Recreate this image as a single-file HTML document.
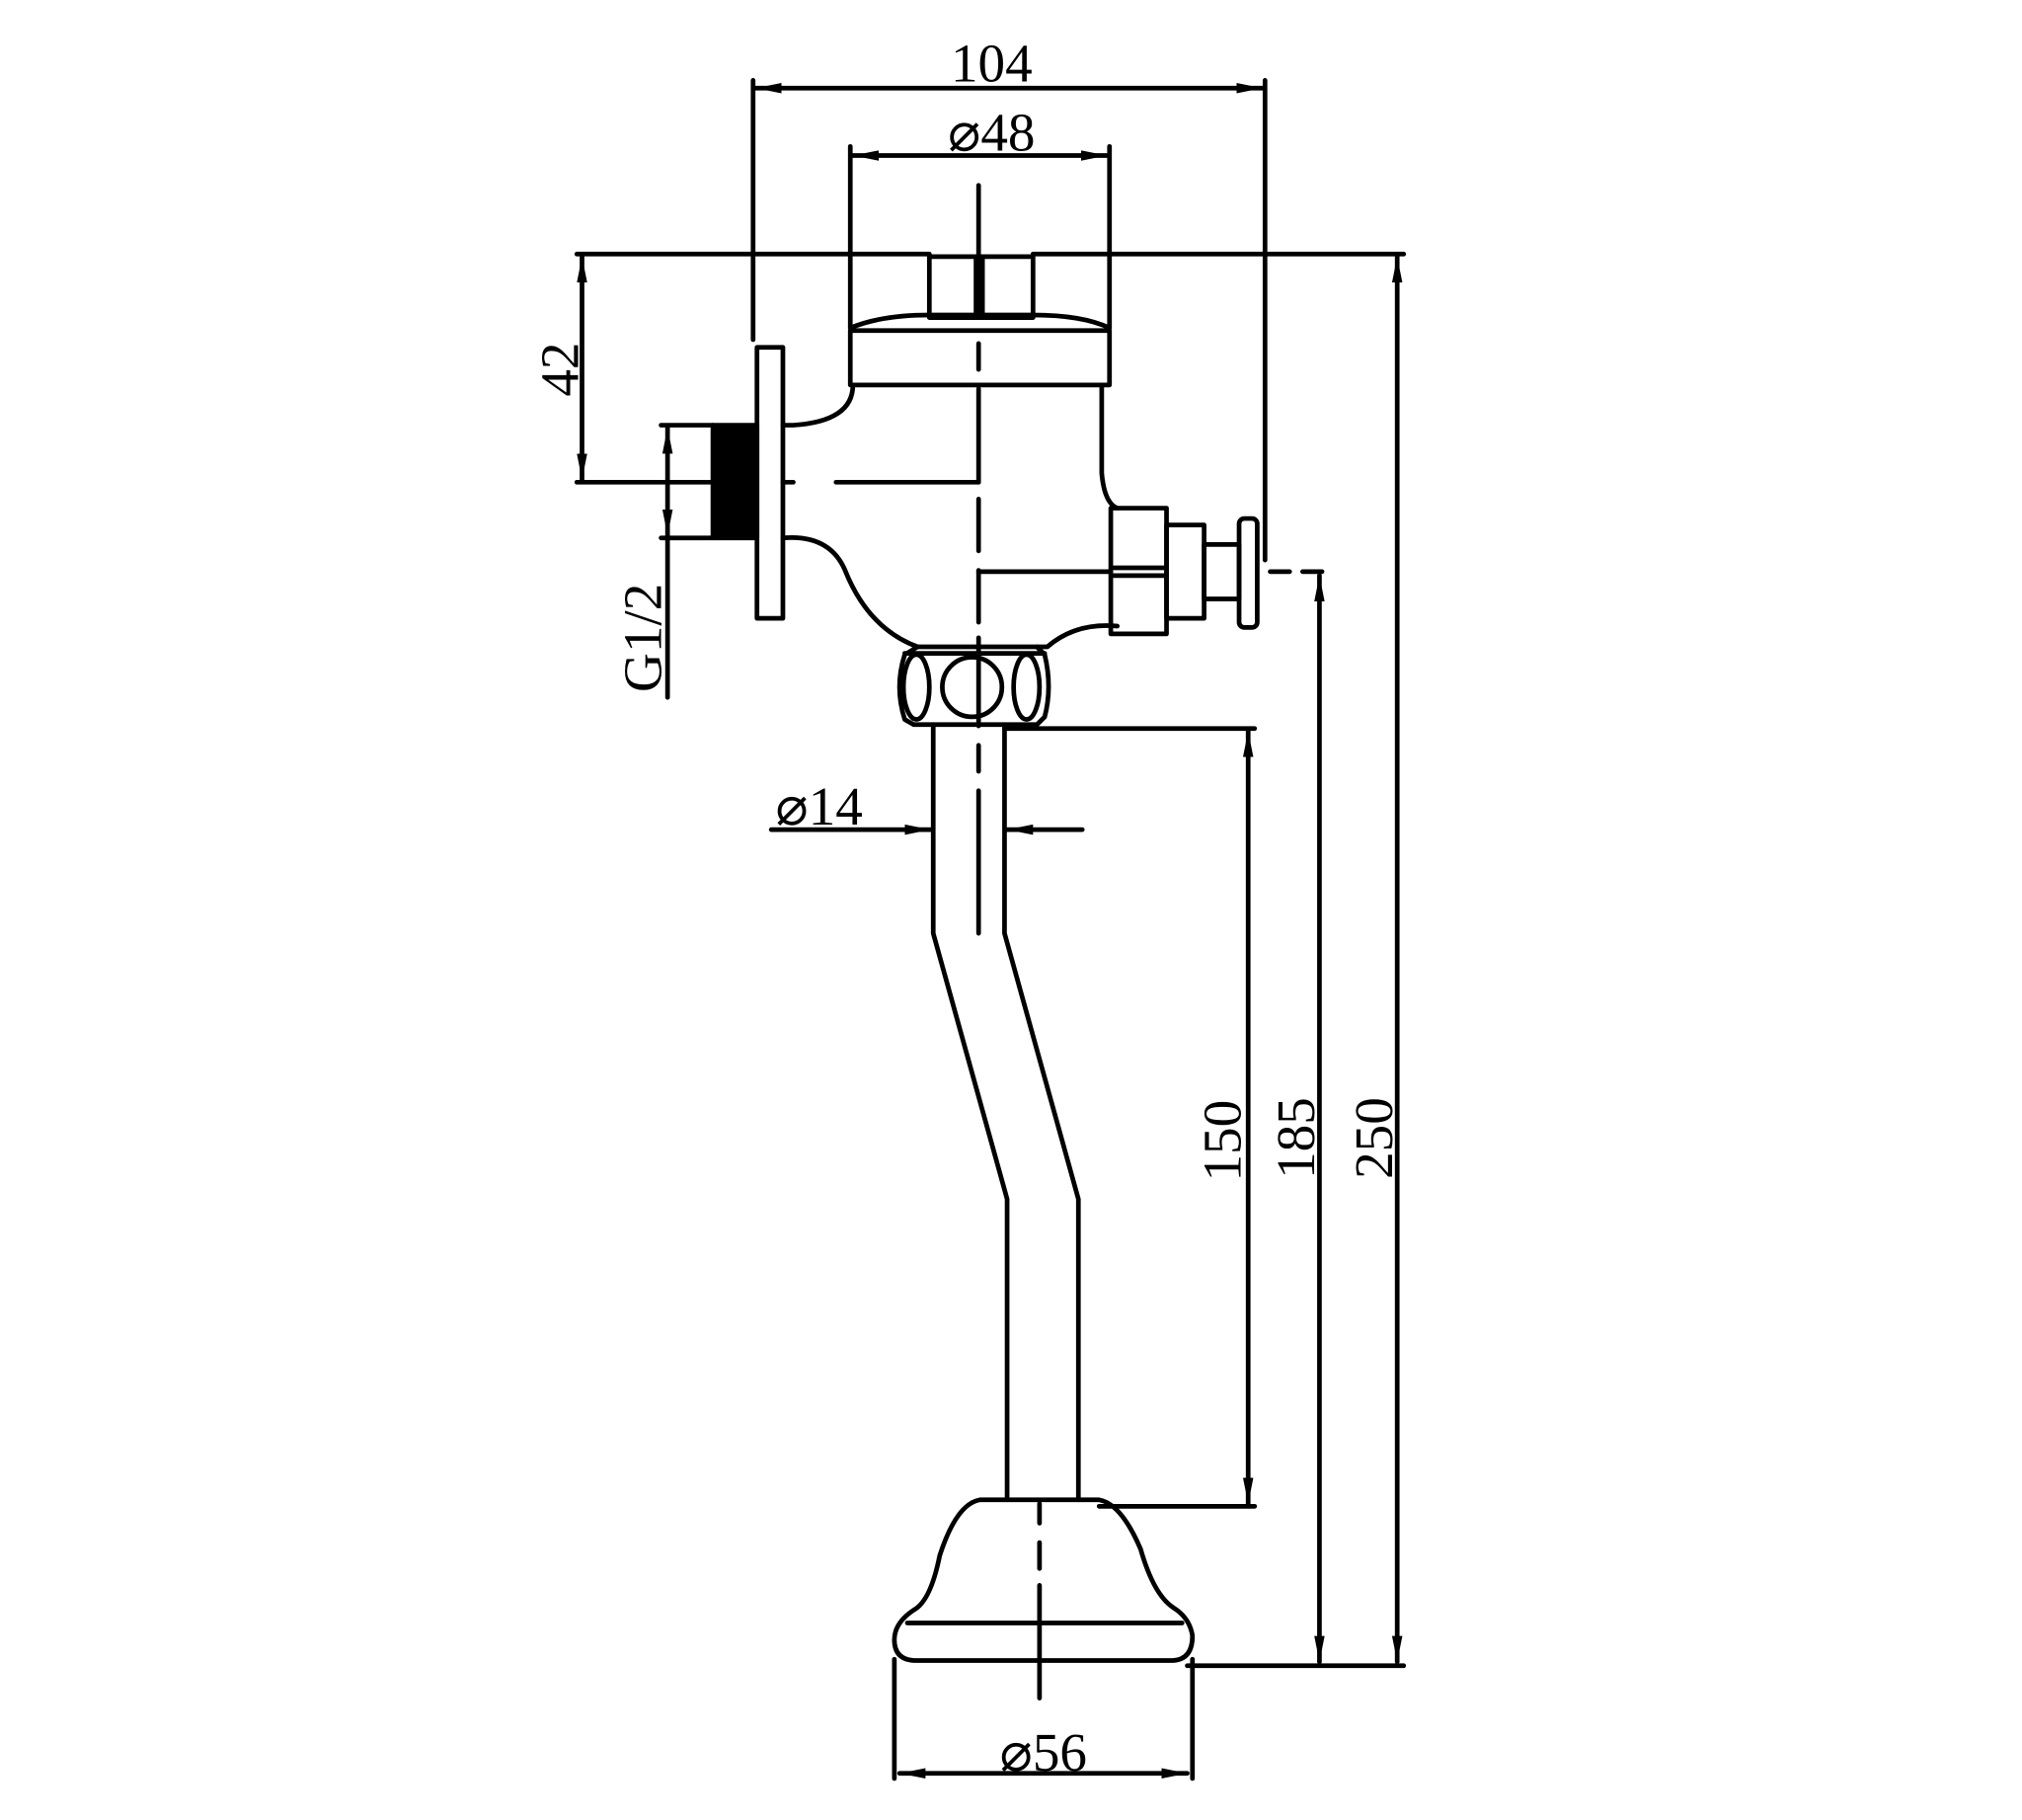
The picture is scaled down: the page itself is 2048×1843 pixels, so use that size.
<!DOCTYPE html>
<html><head><meta charset="utf-8"><style>html,body{margin:0;padding:0;background:#fff}svg{display:block}</style></head>
<body>
<svg width="2048" height="1843" viewBox="0 0 1560 1404" xmlns="http://www.w3.org/2000/svg">
<defs>
<marker id="a" viewBox="0 0 20 8" refX="20" refY="4" markerWidth="20" markerHeight="8" markerUnits="userSpaceOnUse" orient="auto-start-reverse"><path d="M0,0 L20,4 L0,8 Z" fill="#000"/></marker>
</defs>
<rect width="1560" height="1404" fill="#fff"/>
<g font-family="Liberation Serif, serif" font-size="42" fill="#000" text-anchor="middle">
<text x="765" y="63">104</text>
<text x="765" y="116">⌀48</text>
<text x="632" y="636">⌀14</text>
<text x="805" y="1366">⌀56</text>
<text transform="translate(446,285) rotate(-90)">42</text>
<text transform="translate(510,492) rotate(-90)">G1/2</text>
<text transform="translate(957,880) rotate(-90)">150</text>
<text transform="translate(1014,878) rotate(-90)">185</text>
<text transform="translate(1074,878) rotate(-90)">250</text>
</g>
<g stroke="#000" stroke-width="3.6" fill="none" stroke-linecap="round" stroke-linejoin="round">
<line x1="583" y1="68" x2="974" y2="68" marker-start="url(#a)" marker-end="url(#a)"/>
<line x1="581" y1="62" x2="581" y2="262"/>
<line x1="976" y1="62" x2="976" y2="432"/>
<line x1="658" y1="120" x2="854" y2="120" marker-start="url(#a)" marker-end="url(#a)"/>
<line x1="656" y1="113" x2="656" y2="253"/>
<line x1="856" y1="113" x2="856" y2="253"/>
<line x1="445" y1="196" x2="717" y2="196"/>
<line x1="797" y1="196" x2="1083" y2="196"/>
<line x1="449" y1="198" x2="449" y2="370" marker-start="url(#a)" marker-end="url(#a)"/>
<line x1="445" y1="372" x2="550" y2="372"/>
<line x1="604" y1="372" x2="612" y2="372"/>
<line x1="645" y1="372" x2="755" y2="372"/>
<line x1="510" y1="328" x2="550" y2="328"/>
<line x1="510" y1="415" x2="550" y2="415"/>
<line x1="515" y1="330" x2="515" y2="413" marker-start="url(#a)" marker-end="url(#a)"/>
<line x1="515" y1="415" x2="515" y2="538"/>
<line x1="595" y1="640" x2="718" y2="640" marker-end="url(#a)"/>
<line x1="835" y1="640" x2="777" y2="640" marker-end="url(#a)"/>
<line x1="775" y1="562" x2="968" y2="562"/>
<line x1="963" y1="564" x2="963" y2="1160" marker-start="url(#a)" marker-end="url(#a)"/>
<line x1="848" y1="1162" x2="968" y2="1162"/>
<line x1="1018" y1="444" x2="1018" y2="1282" marker-start="url(#a)" marker-end="url(#a)"/>
<line x1="1078" y1="198" x2="1078" y2="1282" marker-start="url(#a)" marker-end="url(#a)"/>
<line x1="916" y1="1285" x2="1083" y2="1285"/>
<line x1="690" y1="1280" x2="690" y2="1372"/>
<line x1="920" y1="1280" x2="920" y2="1372"/>
<line x1="694" y1="1368" x2="916" y2="1368" marker-start="url(#a)" marker-end="url(#a)"/>
<line x1="755" y1="143" x2="755" y2="245"/>
<path d="M755,265 V285 M755,300 V372 M755,385 V425 M755,440 V480 M755,492 V560 M755,575 V595 M755,610 V720"/>
<line x1="755" y1="441" x2="857" y2="441"/>
<line x1="980" y1="441" x2="995" y2="441"/>
<line x1="1005" y1="441" x2="1020" y2="441"/>
<path d="M802,1160 V1175 M802,1190 V1210 M802,1223 V1310"/>
<rect x="717" y="198" width="80" height="47"/>
<line x1="753" y1="198" x2="753" y2="245"/>
<line x1="758" y1="198" x2="758" y2="245"/>
<path d="M656,253 Q680,243 717,243 L797,243 Q835,243 856,253"/>
<rect x="656" y="255" width="200" height="42"/>
<rect x="584" y="268" width="20" height="209"/>
<rect x="550" y="328" width="34" height="87" fill="#000"/>
<path d="M658,297 Q658,325 612,328 L604,328"/>
<path d="M604,415 Q640,412 652,440 Q670,485 708,499 L808,499 Q830,480 862,483"/>
<path d="M850,297 L850,365 Q852,388 862,392"/>
<rect x="857" y="392" width="43" height="97"/>
<line x1="859" y1="438" x2="898" y2="438"/>
<line x1="859" y1="444" x2="898" y2="444"/>
<rect x="900" y="405" width="29" height="72"/>
<rect x="929" y="420" width="27" height="42"/>
<rect x="956" y="400" width="14" height="84" rx="4"/>
<path d="M708,499 L698,505 Q690,530 698,555 L705,559 L800,559 L806,553 Q812,530 806,505 L800,499"/>
<line x1="698" y1="504" x2="806" y2="504"/>
<ellipse cx="707" cy="530" rx="10" ry="25"/>
<circle cx="750" cy="530" r="23"/>
<ellipse cx="792" cy="530" rx="10" ry="25"/>
<path d="M720,559 L720,720 L777,925 L777,1157"/>
<path d="M775,559 L775,720 L832,925 L832,1157"/>
<path d="M756,1157 L848,1157 Q865,1160 880,1195 Q890,1230 905,1240 Q918,1248 920,1262 Q920,1280 905,1281 L705,1281 Q690,1280 690,1265 Q690,1252 705,1242 Q718,1235 725,1200 Q738,1160 756,1157 Z"/>
<line x1="700" y1="1252" x2="912" y2="1252"/>
</g>
</svg>
</body></html>
